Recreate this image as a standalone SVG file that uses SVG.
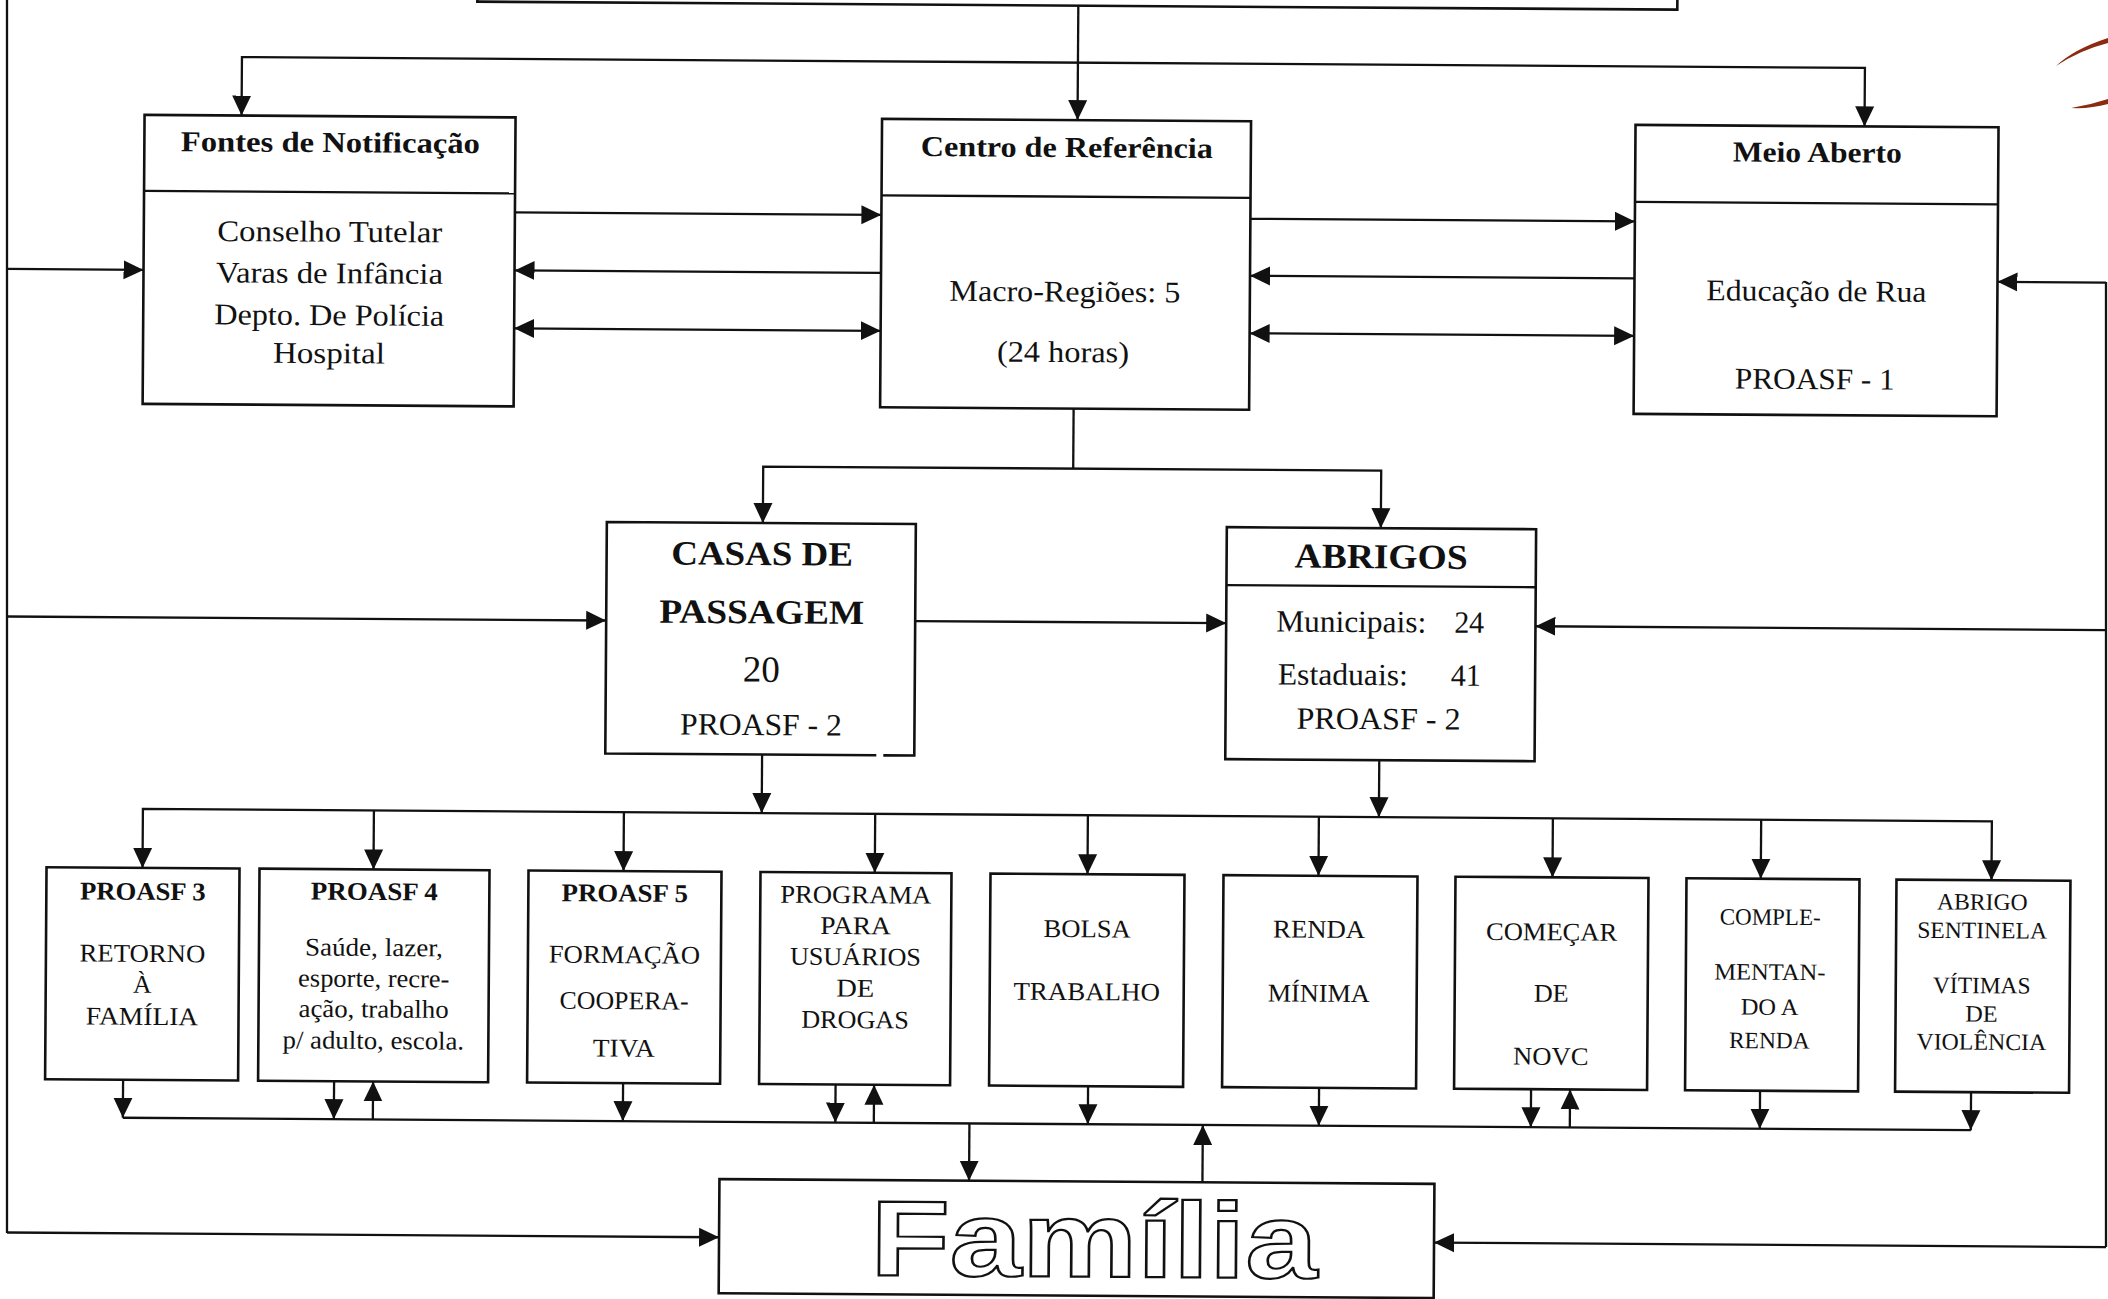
<svg xmlns="http://www.w3.org/2000/svg" width="2108" height="1299" viewBox="0 0 2108 1299">
<defs>
<style>
.box{fill:#fff;stroke:#111;stroke-width:2.6}
.ln{fill:none;stroke:#111;stroke-width:2.3}
.ar{marker-end:url(#ah)}
.ar2{marker-start:url(#ah);marker-end:url(#ah)}
.t{font-family:"Liberation Serif","Times New Roman",serif;fill:#111;text-anchor:middle}
.b{font-weight:bold}
.s28{font-size:30px}
.s30{font-size:31px}
.s24{font-size:25.5px}
.s22{font-size:23.5px}
.st{text-anchor:start}
.fam{font-family:"Liberation Sans",Arial,sans-serif;font-weight:bold;font-size:107px;fill:#fff;stroke:#111;stroke-width:2.2;text-anchor:middle}
</style>
<marker id="ah" viewBox="0 0 20 20" refX="20" refY="10" markerWidth="20" markerHeight="20" markerUnits="userSpaceOnUse" orient="auto-start-reverse">
<path d="M0,0.5 L20,10 L0,19.5 z" fill="#111"/>
</marker>
</defs>
<rect x="0" y="0" width="2108" height="1299" fill="#fff"/>

<g id="borders" class="ln">
<path d="M7,0 V1233"/>
<path d="M2106,282 V1247"/>
</g>

<g id="scan-marks" fill="#8a2b12">
<path d="M2056,66 Q2074,49 2108,38 L2108,43 Q2080,50 2056,66 Z"/>
<path d="M2071,108 Q2090,105 2108,99 L2108,104 Q2090,109 2071,108 Z"/>
</g>

<g id="diagram" transform="rotate(0.384 1054 650)">

<g id="connectors" class="ln">
<path class="ar" d="M1074,5.5 V120"/>
<path class="ar2" d="M238,121 V62.5 H1861 V121"/>
<path class="ar" d="M512,216 H878.5"/>
<path class="ar" d="M878.5,274 H512"/>
<path class="ar2" d="M512,332 H878.5"/>
<path class="ar" d="M1247.5,217.5 H1632"/>
<path class="ar" d="M1632,274.5 H1247.5"/>
<path class="ar2" d="M1247.5,332 H1632"/>
<path class="ar" d="M4.5,276 H141"/>
<path class="ar" d="M2103.5,275.5 H1995"/>
<path d="M1072,408.5 V468.5"/>
<path class="ar2" d="M762,525 V468.5 H1380 V526"/>
<path class="ar" d="M6.8,623.5 H606"/>
<path class="ar" d="M915,622 H1226"/>
<path class="ar" d="M2105.8,623 H1535.3"/>
<path class="ar" d="M762.8,756.5 V815"/>
<path class="ar" d="M1380,758 V815"/>
<path class="ar2" d="M144,874 V815 H1993 V874"/>
<path class="ar" d="M375,815 V874"/>
<path class="ar" d="M625,815 V874"/>
<path class="ar" d="M876.3,815 V874"/>
<path class="ar" d="M1089,815 V874"/>
<path class="ar" d="M1320,815 V874"/>
<path class="ar" d="M1554,815 V874"/>
<path class="ar" d="M1762.3,815 V874"/>
<path d="M126,1124 H1974"/>
<path class="ar" d="M126,1086 V1124"/>
<path class="ar" d="M337,1086 V1124"/>
<path class="ar" d="M376,1124 V1086"/>
<path class="ar" d="M626,1086 V1124"/>
<path class="ar" d="M838.5,1086 V1124"/>
<path class="ar" d="M877,1124 V1086"/>
<path class="ar" d="M1091,1086 V1124"/>
<path class="ar" d="M1322,1086 V1124"/>
<path class="ar" d="M1534,1086 V1124"/>
<path class="ar" d="M1573,1124 V1086"/>
<path class="ar" d="M1763,1086 V1124"/>
<path class="ar" d="M1974,1086 V1124"/>
<path class="ar" d="M972.6,1124 V1181.3"/>
<path class="ar" d="M1206,1181.3 V1124"/>
<path class="ar" d="M10.9,1239.5 H723"/>
<path class="ar" d="M2110,1240 H1438"/>
</g>

<g id="topo">
<rect class="box" x="473" y="-30" width="1200" height="35.5"/>
</g>

<g id="fontes">
<rect class="box" x="141" y="121" width="371" height="289"/>
<path class="ln" d="M141,197 H512"/>
<text class="t b" font-size="29" x="327" y="157" textLength="299" lengthAdjust="spacingAndGlyphs">Fontes de Notificação</text>
<text class="t s28" x="327" y="246.5" textLength="225" lengthAdjust="spacingAndGlyphs">Conselho Tutelar</text>
<text class="t s28" x="327" y="288" textLength="227" lengthAdjust="spacingAndGlyphs">Varas de Infância</text>
<text class="t s28" x="327" y="330" textLength="230" lengthAdjust="spacingAndGlyphs">Depto. De Polícia</text>
<text class="t s28" x="327" y="368" textLength="112" lengthAdjust="spacingAndGlyphs">Hospital</text>
</g>

<g id="centro">
<rect class="box" x="878.5" y="120" width="369" height="288.5"/>
<path class="ln" d="M878.5,196.5 H1247.5"/>
<text class="t b" font-size="29" x="1063.5" y="157" textLength="292" lengthAdjust="spacingAndGlyphs">Centro de Referência</text>
<text class="t s28" x="1062.5" y="301.5" textLength="231" lengthAdjust="spacingAndGlyphs">Macro-Regiões: 5</text>
<text class="t s28" x="1061" y="362" textLength="132" lengthAdjust="spacingAndGlyphs">(24 horas)</text>
</g>

<g id="meio-aberto">
<rect class="box" x="1632" y="121" width="363" height="289"/>
<path class="ln" d="M1632,198 H1995"/>
<text class="t b" font-size="29" x="1814" y="157" textLength="169" lengthAdjust="spacingAndGlyphs">Meio Aberto</text>
<text class="t s28" x="1814" y="296" textLength="220" lengthAdjust="spacingAndGlyphs">Educação de Rua</text>
<text class="t s28" x="1813" y="384" textLength="160" lengthAdjust="spacingAndGlyphs">PROASF - 1</text>
</g>

<g id="casas">
<path class="box" d="M877,756.5 H606 V525 H915 V756.5 H884"/>
<text class="t b" font-size="34" x="761.5" y="567" textLength="181.7" lengthAdjust="spacingAndGlyphs">CASAS DE</text>
<text class="t b" font-size="34" x="761.5" y="625.3" textLength="205" lengthAdjust="spacingAndGlyphs">PASSAGEM</text>
<text class="t" font-size="37" x="761.5" y="683.6">20</text>
<text class="t s30" x="761.5" y="737" textLength="161.7" lengthAdjust="spacingAndGlyphs">PROASF - 2</text>
</g>

<g id="abrigos">
<rect class="box" x="1226" y="526" width="309.3" height="232"/>
<path class="ln" d="M1226,584 H1535.3"/>
<text class="t b" font-size="35" x="1380.5" y="566" textLength="173" lengthAdjust="spacingAndGlyphs">ABRIGOS</text>
<text class="t s30 st" x="1276" y="630" textLength="150" lengthAdjust="spacingAndGlyphs">Municipais:</text>
<text class="t s30 st" x="1454" y="630" textLength="30" lengthAdjust="spacingAndGlyphs">24</text>
<text class="t s30 st" x="1278" y="683" textLength="130" lengthAdjust="spacingAndGlyphs">Estaduais:</text>
<text class="t s30 st" x="1451" y="683" textLength="30" lengthAdjust="spacingAndGlyphs">41</text>
<text class="t s30" x="1379" y="727" textLength="164" lengthAdjust="spacingAndGlyphs">PROASF - 2</text>
</g>

<g id="proasf3">
<rect class="box" x="48" y="874" width="193" height="212"/>
<text class="t b s24" x="144.5" y="906" textLength="125.7" lengthAdjust="spacingAndGlyphs">PROASF 3</text>
<text class="t s24" x="144.5" y="968" textLength="125.7" lengthAdjust="spacingAndGlyphs">RETORNO</text>
<text class="t s24" x="144.5" y="999">À</text>
<text class="t s24" x="144.5" y="1031" textLength="112.3" lengthAdjust="spacingAndGlyphs">FAMÍLIA</text>
</g>

<g id="proasf4">
<rect class="box" x="261" y="874" width="230" height="212"/>
<text class="t b s24" x="376" y="904.5" textLength="127" lengthAdjust="spacingAndGlyphs">PROASF 4</text>
<text class="t s24" x="376" y="960.5" textLength="137.8" lengthAdjust="spacingAndGlyphs">Saúde, lazer,</text>
<text class="t s24" x="376" y="991.5" textLength="151.2" lengthAdjust="spacingAndGlyphs">esporte, recre-</text>
<text class="t s24" x="376" y="1022" textLength="150" lengthAdjust="spacingAndGlyphs">ação, trabalho</text>
<text class="t s24" x="376" y="1053.5" textLength="181.5" lengthAdjust="spacingAndGlyphs">p/ adulto, escola.</text>
</g>

<g id="proasf5">
<rect class="box" x="530" y="874" width="193" height="212"/>
<text class="t b s24" x="626.5" y="904.5" textLength="126.4" lengthAdjust="spacingAndGlyphs">PROASF 5</text>
<text class="t s24" x="626.5" y="966" textLength="151.2" lengthAdjust="spacingAndGlyphs">FORMAÇÃO</text>
<text class="t s24" x="626.5" y="1012" textLength="129" lengthAdjust="spacingAndGlyphs">COOPERA-</text>
<text class="t s24" x="626.5" y="1059.5" textLength="61.8" lengthAdjust="spacingAndGlyphs">TIVA</text>
</g>

<g id="programa-drogas">
<rect class="box" x="762" y="874" width="191" height="212"/>
<text class="t s24" x="857.5" y="904.5" textLength="151.2" lengthAdjust="spacingAndGlyphs">PROGRAMA</text>
<text class="t s24" x="857.5" y="935.5" textLength="70.6" lengthAdjust="spacingAndGlyphs">PARA</text>
<text class="t s24" x="857.5" y="966.5" textLength="131" lengthAdjust="spacingAndGlyphs">USUÁRIOS</text>
<text class="t s24" x="857.5" y="998" textLength="38" lengthAdjust="spacingAndGlyphs">DE</text>
<text class="t s24" x="857.5" y="1029.5" textLength="107.5" lengthAdjust="spacingAndGlyphs">DROGAS</text>
</g>

<g id="bolsa-trabalho">
<rect class="box" x="992" y="874" width="194" height="212"/>
<text class="t s24" x="1089" y="937" textLength="87" lengthAdjust="spacingAndGlyphs">BOLSA</text>
<text class="t s24" x="1089" y="1000" textLength="146.5" lengthAdjust="spacingAndGlyphs">TRABALHO</text>
</g>

<g id="renda-minima">
<rect class="box" x="1225" y="874" width="194" height="212"/>
<text class="t s24" x="1321" y="936" textLength="92" lengthAdjust="spacingAndGlyphs">RENDA</text>
<text class="t s24" x="1321" y="1000" textLength="102" lengthAdjust="spacingAndGlyphs">MÍNIMA</text>
</g>

<g id="comecar-de-novo">
<rect class="box" x="1457" y="874" width="193" height="212"/>
<text class="t s24" x="1553.5" y="937" textLength="131" lengthAdjust="spacingAndGlyphs">COMEÇAR</text>
<text class="t s24" x="1553.5" y="998.5" textLength="35" lengthAdjust="spacingAndGlyphs">DE</text>
<text class="t s24" x="1553.5" y="1061.5" textLength="75.3" lengthAdjust="spacingAndGlyphs">NOVC</text>
</g>

<g id="complementando-renda">
<rect class="box" x="1688" y="874" width="173" height="212"/>
<text class="t s22" x="1772" y="920" textLength="100.8" lengthAdjust="spacingAndGlyphs">COMPLE-</text>
<text class="t s22" x="1772" y="975" textLength="111" lengthAdjust="spacingAndGlyphs">MENTAN-</text>
<text class="t s22" x="1772" y="1010" textLength="57.8" lengthAdjust="spacingAndGlyphs">DO A</text>
<text class="t s22" x="1772" y="1043.5" textLength="80.7" lengthAdjust="spacingAndGlyphs">RENDA</text>
</g>

<g id="abrigo-sentinela">
<rect class="box" x="1898" y="874" width="174" height="212"/>
<text class="t s22" x="1984" y="903.5" textLength="90.7" lengthAdjust="spacingAndGlyphs">ABRIGO</text>
<text class="t s22" x="1984" y="932" textLength="129.7" lengthAdjust="spacingAndGlyphs">SENTINELA</text>
<text class="t s22" x="1984" y="987" textLength="97.5" lengthAdjust="spacingAndGlyphs">VÍTIMAS</text>
<text class="t s22" x="1984" y="1015.5" textLength="32.3" lengthAdjust="spacingAndGlyphs">DE</text>
<text class="t s22" x="1984" y="1043.5" textLength="129.7" lengthAdjust="spacingAndGlyphs">VIOLÊNCIA</text>
</g>

<g id="familia">
<rect class="box" x="723" y="1181.3" width="715" height="114.2"/>
<text class="fam" x="1098" y="1276.4" textLength="447" lengthAdjust="spacingAndGlyphs">Família</text>
</g>

</g>
</svg>
